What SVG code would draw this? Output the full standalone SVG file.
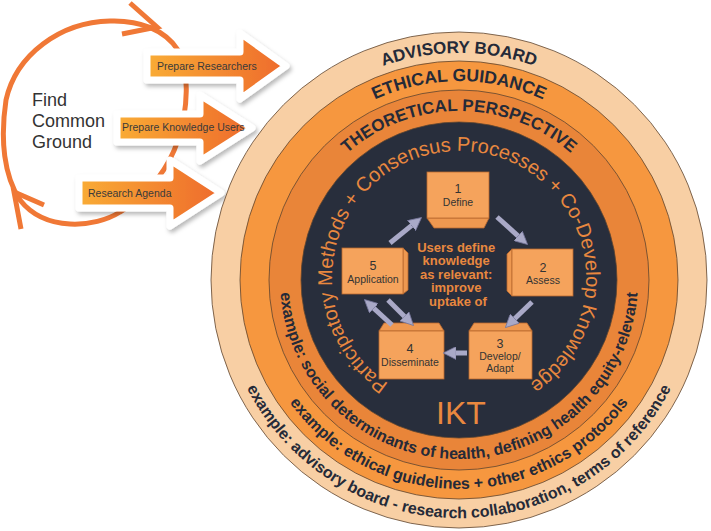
<svg xmlns="http://www.w3.org/2000/svg" width="711" height="531" viewBox="0 0 711 531">
<defs>
<style>
.ring{stroke:#5E4530;stroke-width:0.8}
.title{font-family:"Liberation Sans",Arial,sans-serif;font-weight:bold;font-size:17px;fill:#252A38}
.ex{font-family:"Liberation Sans",Arial,sans-serif;font-weight:bold;font-size:16px;fill:#252A38}
.inner{font-family:"Liberation Sans",Arial,sans-serif;font-size:20px;fill:#E9883F}
.box{fill:#F5A35C;stroke:#B8682E;stroke-width:0.8}
.bevel{fill:#EE9850;stroke:#B8682E;stroke-width:0.8}
.num{font-family:"Liberation Sans",Arial,sans-serif;font-size:12.5px;fill:#333;text-anchor:middle}
.lbl{font-family:"Liberation Sans",Arial,sans-serif;font-size:10.5px;fill:#333;text-anchor:middle}
.center{font-family:"Liberation Sans",Arial,sans-serif;font-weight:bold;font-size:13px;fill:#E9883F;text-anchor:middle}
.arrow{stroke:#A9A9C7;stroke-width:5;fill:none;marker-end:url(#ah)}
.banner{fill:url(#bannerGrad);stroke:#FFFFFF;stroke-width:7;stroke-linejoin:round;filter:url(#shadow)}
.btxt{font-family:"Liberation Sans",Arial,sans-serif;font-size:10.5px;fill:#3A3A3A}
</style>
<linearGradient id="bannerGrad" x1="0" y1="0" x2="1" y2="0">
<stop offset="0" stop-color="#F9AC35"/>
<stop offset="1" stop-color="#EE6A2C"/>
</linearGradient>
<filter id="shadow" x="-10%" y="-20%" width="130%" height="160%">
<feDropShadow dx="2" dy="3" stdDeviation="2" flood-color="#000" flood-opacity="0.28"/>
</filter>
<marker id="ah" viewBox="0 0 10 10" refX="4" refY="5" markerWidth="2.6" markerHeight="2.6" orient="auto" markerUnits="strokeWidth">
<path d="M0,0 L10,5 L0,10 Z" fill="#A9A9C7" stroke="#75759A" stroke-width="0.6"/>
</marker>
<path id="pAdv" d="M245.7,357.6 A227,227 0 1 1 672.3,357.6"/>
<path id="pEth" d="M272,348.1 A199,199 0 1 1 646,348.1"/>
<path id="pThe" d="M300.2,337.8 A169,169 0 1 1 617.8,337.8"/>
<path id="pExA" d="M235.4,198.6 A238,238 0 1 0 682.6,198.6"/>
<path id="pExE" d="M262.6,208.5 A209,209 0 1 0 655.4,208.5"/>
<path id="pExT" d="M290.8,218.8 A179,179 0 1 0 627.2,218.8"/>
<path id="pIn" d="M459,405 A127,127 0 1 1 459,151 A127,127 0 1 1 459,405"/>
</defs>

<g id="cycle-arrow" fill="none" stroke="#F07836" stroke-width="5" stroke-linecap="butt">
<path d="M120,212 C95,228 45,232 20,200 C4,176 0,140 6,100 C16,55 60,22 110,21 C140,20 165,30 178,50 C190,70 188,110 178,140 C170,165 150,195 120,212 Z"/>
<polyline points="130,3 157,27 122,34"/>
<polyline points="44,205 14,192 21,229"/>
</g>
<text id="find-common-ground" font-family="Liberation Sans, Arial, sans-serif" font-size="18" fill="#333">
<tspan x="32" y="106">Find</tspan>
<tspan x="32" y="127">Common</tspan>
<tspan x="32" y="148">Ground</tspan>
</text>

<g id="banner-researchers">
<polygon class="banner" points="147,52 240,52 240,33 286,66 240,99 240,80 147,80"/>
<text class="btxt" x="157" y="70">Prepare Researchers</text>
</g>
<g id="banner-knowledge-users">
<polygon class="banner" points="117,114 200,114 200,95 252,128 200,161 200,142 117,142"/>
<text class="btxt" x="122" y="131">Prepare Knowledge Users</text>
</g>
<g id="banner-agenda">
<polygon class="banner" points="79,178 170,178 170,160 221,193 170,226 170,208 79,208"/>
<text class="btxt" x="88" y="197">Research Agenda</text>
</g>

<g id="ring-advisory">
<circle class="ring" cx="459" cy="280" r="248" fill="#F8CFA4"/>
<text class="title"><textPath href="#pAdv" startOffset="50%" text-anchor="middle">ADVISORY BOARD</textPath></text>
</g>
<g id="ring-ethical">
<circle class="ring" cx="459" cy="280" r="219" fill="#F6973F"/>
<text class="title" style="font-size:17.5px"><textPath href="#pEth" startOffset="50%" text-anchor="middle">ETHICAL GUIDANCE</textPath></text>
</g>
<g id="ring-theoretical">
<circle class="ring" cx="459" cy="280" r="190" fill="#E98539"/>
<text class="title"><textPath href="#pThe" startOffset="50%" text-anchor="middle">THEORETICAL PERSPECTIVE</textPath></text>
</g>
<g id="ring-examples">
<text class="ex"><textPath href="#pExA" startOffset="50%" text-anchor="middle">example: advisory board - research collaboration, terms of reference</textPath></text>
<text class="ex"><textPath href="#pExE" startOffset="50%" text-anchor="middle">example: ethical guidelines + other ethics protocols</textPath></text>
<text class="ex"><textPath href="#pExT" startOffset="50%" text-anchor="middle">example: social determinants of health, defining health equity-relevant</textPath></text>
</g>
<g id="core">
<circle class="ring" cx="459" cy="280" r="158" fill="#282E3C"/>
<text class="inner"><textPath href="#pIn" startOffset="50%" text-anchor="middle">Participatory Methods + Consensus Processes + Co-Develop Knowledge</textPath></text>
<text font-family="Liberation Sans, Arial, sans-serif" font-size="32" fill="#E9883F" text-anchor="middle" x="461" y="424">IKT</text>
<text class="center">
<tspan x="458" y="252">Users define</tspan>
<tspan x="458" y="265">knowledge</tspan>
<tspan x="458" y="279">as relevant:</tspan>
<tspan x="458" y="292">improve</tspan>
<tspan x="458" y="306">uptake of</tspan>
</text>
</g>

<g id="box1">
<polygon class="bevel" points="427,218 489,218 484,228 434,228"/>
<rect class="box" x="427" y="172" width="62" height="46"/>
<text class="num" x="458" y="193">1</text>
<text class="lbl" x="458" y="206">Define</text>
</g>
<g id="box2">
<polygon class="bevel" points="507,254 512,249 512,296 507,291"/>
<rect class="box" x="512" y="249" width="61" height="47"/>
<text class="num" x="543" y="272">2</text>
<text class="lbl" x="543" y="284">Assess</text>
</g>
<g id="box3">
<polygon class="bevel" points="469,331 474,323 527,323 532,331"/>
<rect class="box" x="469" y="331" width="63" height="48"/>
<text class="num" x="500" y="348">3</text>
<text class="lbl" x="500" y="360">Develop/</text>
<text class="lbl" x="500" y="372">Adapt</text>
</g>
<g id="box4">
<polygon class="bevel" points="379,331 384,323 439,323 444,331"/>
<rect class="box" x="379" y="331" width="65" height="48"/>
<text class="num" x="410" y="353">4</text>
<text class="lbl" x="410" y="366">Disseminate</text>
</g>
<g id="box5">
<polygon class="bevel" points="403,248 408,253 408,290 403,294"/>
<rect class="box" x="342" y="248" width="61" height="46"/>
<text class="num" x="373" y="270">5</text>
<text class="lbl" x="373" y="283">Application</text>
</g>

<g id="connectors">
<path class="arrow" d="M390,243 L415.5,222.4"/>
<path class="arrow" d="M497,217 L521.8,239.3"/>
<path class="arrow" d="M532,302 L511,322.2"/>
<path class="arrow" d="M467,353 L451,353"/>
<path class="arrow" d="M392,325 L370.1,304.8"/>
<path class="arrow" d="M388,300 L408,320"/>
</g>
</svg>
